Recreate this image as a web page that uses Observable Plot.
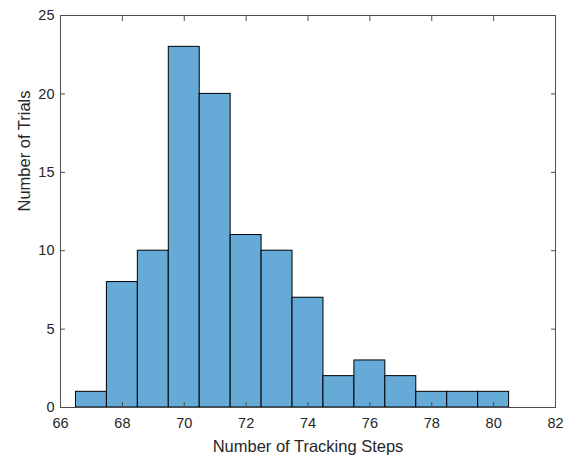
<!DOCTYPE html>
<html><head><meta charset="utf-8">
<script src="https://cdn.jsdelivr.net/npm/d3@7"></script>
<script src="https://cdn.jsdelivr.net/npm/@observablehq/plot@0.6"></script>
<style>body{margin:0;background:#fff}</style>
</head><body><div id="chart"></div>
<script>
const binStart = [66.5,67.5,68.5,69.5,70.5,71.5,72.5,73.5,74.5,75.5,76.5,77.5,78.5,79.5];
const binEnd   = [67.5,68.5,69.5,70.5,71.5,72.5,73.5,74.5,75.5,76.5,77.5,78.5,79.5,80.5];
const counts   = [1,8,10,23,20,11,10,7,2,3,2,1,1,1];
const xTicks = [66,68,70,72,74,76,78,80,82];
const yTicks = [0,5,10,15,20,25];
const data = counts.map((c,i)=>({x1:binStart[i], x2:binEnd[i], y:c}));
const axisColor = "#4d4d4d";
const font = "'Liberation Sans', Arial, sans-serif";
const plot = Plot.plot({
  width: 573, height: 459,
  marginLeft: 60, marginTop: 15, marginRight: 18, marginBottom: 52,
  style: {fontFamily: font, fontSize: "14.5px", color: "#262626", background: "white"},
  x: {domain: [66, 82], ticks: xTicks, label: null},
  y: {domain: [0, 25], ticks: yTicks, label: null},
  marks: [
    Plot.rectY(data, {x1:"x1", x2:"x2", y:"y", fill:"#66AAD8", stroke:"#000", strokeWidth:1}),
    Plot.frame({stroke: axisColor}),
    Plot.axisX(xTicks, {anchor:"bottom", tickSize:-5, stroke: axisColor, tickFormat: d=>"", label:null}),
    Plot.axisX(xTicks, {anchor:"top", tickSize:-5, stroke: axisColor, tickFormat: d=>"", label:null}),
    Plot.axisX(xTicks, {anchor:"bottom", tickSize:0, tickPadding:10, fill:"#262626", fontSize:14.5, label:null}),
    Plot.axisY(yTicks, {anchor:"left", tickSize:-5, stroke: axisColor, tickFormat: d=>"", label:null}),
    Plot.axisY(yTicks, {anchor:"right", tickSize:-5, stroke: axisColor, tickFormat: d=>"", label:null}),
    Plot.axisY(yTicks, {anchor:"left", tickSize:0, tickPadding:6, fill:"#262626", fontSize:14.5, label:null}),
    Plot.text(["Number of Tracking Steps"], {frameAnchor:"bottom", dy:44, fontSize:16.5, fill:"#262626"}),
    Plot.text(["Number of Trials"], {frameAnchor:"left", dx:-36, rotate:-90, fontSize:16.5, fill:"#262626"})
  ]
});
document.getElementById("chart").appendChild(plot);
</script></body></html>
